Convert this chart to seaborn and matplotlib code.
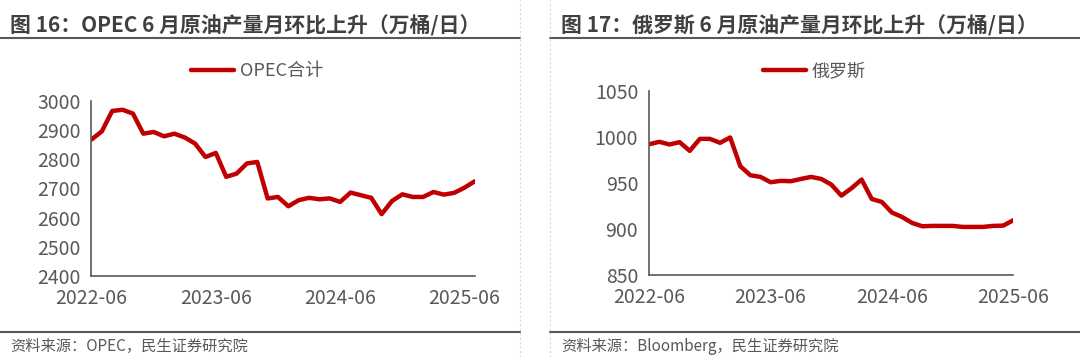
import numpy as np
import pandas as pd
import seaborn as sns
import matplotlib.pyplot as plt
from matplotlib.lines import Line2D

# monthly crude output, 万桶/日
opec_total = [2868, 2896, 2966, 2970, 2957, 2888, 2894, 2879, 2888, 2875,
              2854, 2808, 2822, 2740, 2751, 2786, 2791, 2666, 2671, 2639,
              2660, 2668, 2663, 2666, 2654, 2686, 2677, 2668, 2612, 2657,
              2680, 2671, 2671, 2688, 2679, 2685, 2703, 2725]
russia = [992, 994.6, 991.7, 994.2, 984.8, 997.8, 997.8, 993.5, 999.3, 968.1,
          958.3, 956.5, 950.7, 952.2, 951.8, 954.3, 956.5, 954.3, 948.2, 936.2,
          944.2, 953.6, 932.6, 929.3, 917.8, 913, 906.5, 902.9, 903.3, 903.3,
          903.3, 902.2, 902.2, 902.2, 903.3, 903.6, 909.4]
tick_labels = ['2022-06', '2023-06', '2024-06', '2025-06']

RED = '#C00000'
GREY = '#595959'

sns.set_theme(style='white')
plt.rcParams['font.family'] = ['Noto Sans CJK SC', 'DejaVu Sans']
plt.rcParams['axes.unicode_minus'] = False

fig = plt.figure(figsize=(10.8, 3.57), dpi=100)


def draw_panel(rect, values, name, ylim, yticks, xmax):
    ax = fig.add_axes(rect)
    df = pd.DataFrame({'x': np.arange(len(values)), 'y': values})
    sns.lineplot(data=df, x='x', y='y', ax=ax, color=RED, linewidth=3.2,
                 label=name, legend=False)
    ax.set_xlim(0, xmax)
    ax.set_ylim(*ylim)
    ax.set_yticks(yticks)
    ax.set_xticks(np.arange(len(tick_labels)) * 12)
    ax.set_xticklabels(tick_labels)
    ax.set_xlabel('')
    ax.set_ylabel('')
    for s in ['top', 'right']:
        ax.spines[s].set_visible(False)
    for s in ['left', 'bottom']:
        ax.spines[s].set_color(GREY)
        ax.spines[s].set_linewidth(1.2)
    ax.tick_params(axis='y', direction='in', length=5, width=1.2, color=GREY,
                   labelcolor=GREY, labelsize=14, pad=8)
    ax.tick_params(axis='x', direction='out', length=5, width=1.2, color=GREY,
                   labelcolor=GREY, labelsize=14, pad=4)
    ax.patch.set_alpha(0)
    return ax


ax1 = draw_panel([0.0847, 0.227, 0.355, 0.490], opec_total, 'OPEC合计',
                 (2400, 3000), range(2400, 3001, 100), len(opec_total) - 1)
ax2 = draw_panel([0.6012, 0.2297, 0.337, 0.516], russia, '俄罗斯',
                 (850, 1050), range(850, 1051, 50), len(russia) - 1)

for ax, cx in [(ax1, 257 / 1080), (ax2, 814 / 1080)]:
    ax.legend(loc='center', bbox_to_anchor=(cx, 1 - 71 / 357),
              bbox_transform=fig.transFigure, frameon=False, fontsize=13,
              handlelength=2.4, handletextpad=0.3, labelcolor=GREY)

# titles, rules and sources
titles = ['图 16：OPEC 6 月原油产量月环比上升（万桶/日）',
          '图 17：俄罗斯 6 月原油产量月环比上升（万桶/日）']
sources = ['资料来源：OPEC，民生证券研究院', '资料来源：Bloomberg，民生证券研究院']
for x0, x1, tx, title, src in [(0, 520, 10, titles[0], sources[0]),
                               (550, 1080, 561, titles[1], sources[1])]:
    fig.text(tx / 1080, 1 - 26 / 357, title, fontsize=15, fontweight='bold',
             color='#404040', va='center', ha='left')
    fig.text(tx / 1080, 1 - 346 / 357, src, fontsize=11, color=GREY,
             va='center', ha='left')
    for yy in [37.5, 332]:
        fig.add_artist(Line2D([x0 / 1080, x1 / 1080], [1 - yy / 357] * 2,
                              color=GREY, linewidth=1.5))
for xx in [520, 550]:
    fig.add_artist(Line2D([xx / 1080] * 2, [0, 1], color='#d9d9d9',
                          linewidth=0.8, linestyle=(0, (2, 2))))

fig.savefig('out.png', dpi=100)
